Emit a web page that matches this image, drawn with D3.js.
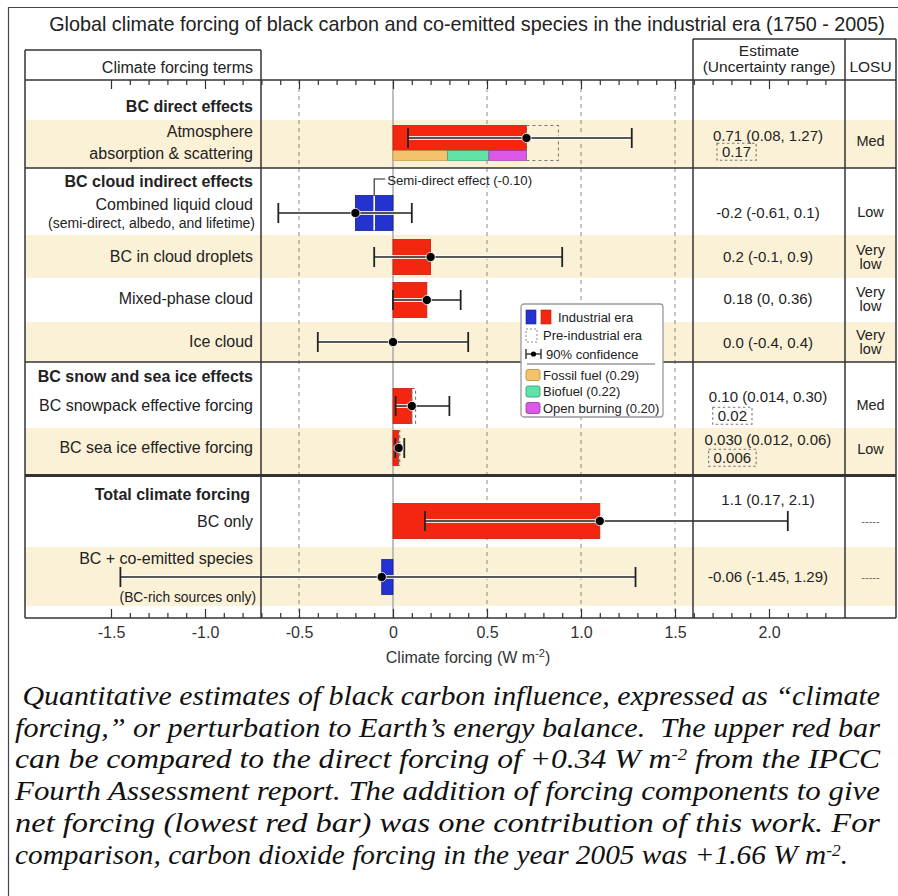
<!DOCTYPE html>
<html>
<head>
<meta charset="utf-8">
<script src="https://cdn.jsdelivr.net/npm/d3@7"></script>
<style>
  body { margin: 0; background: #fff; }
  svg { display: block; }
</style>
</head>
<body>
<svg id="chart" width="898" height="896"></svg>
<script>
// ---- Data ----------------------------------------------------------------
const terms = ["Atmosphere absorption & scattering", "Combined liquid cloud", "BC in cloud droplets",
  "Mixed-phase cloud", "Ice cloud", "BC snowpack effective forcing", "BC sea ice effective forcing",
  "BC only", "BC + co-emitted species"];
const best = [0.71, -0.2, 0.2, 0.18, 0.0, 0.10, 0.030, 1.1, -0.06];
const low  = [0.08, -0.61, -0.1, 0, -0.4, 0.014, 0.012, 0.17, -1.45];
const high = [1.27, 0.1, 0.9, 0.36, 0.4, 0.30, 0.06, 2.1, 1.29];
const preIndustrial = [0.17, null, null, null, null, 0.02, 0.006, null, null];
const estimateLabels = ["0.71 (0.08, 1.27)", "-0.2 (-0.61, 0.1)", "0.2 (-0.1, 0.9)", "0.18 (0, 0.36)",
  "0.0 (-0.4, 0.4)", "0.10 (0.014, 0.30)", "0.030 (0.012, 0.06)", "1.1 (0.17, 2.1)", "-0.06 (-1.45, 1.29)"];
const preLabels = ["0.17", null, null, null, null, "0.02", "0.006", null, null];
const losu = [["Med"], ["Low"], ["Very", "low"], ["Very", "low"], ["Very", "low"], ["Med"], ["Low"], ["-----"], ["-----"]];
const termLines = [["Atmosphere", "absorption & scattering"], ["Combined liquid cloud"], ["BC in cloud droplets"],
  ["Mixed-phase cloud"], ["Ice cloud"], ["BC snowpack effective forcing"], ["BC sea ice effective forcing"],
  ["BC only"], ["BC + co-emitted species"]];
const termNotes = [null, "(semi-direct, albedo, and lifetime)", null, null, null, null, null, null, "(BC-rich sources only)"];
const sections = ["BC direct effects", "BC cloud indirect effects", "BC snow and sea ice effects", "Total climate forcing"];
const sources = ["Fossil fuel", "Biofuel", "Open burning"];
const sourceValues = [0.29, 0.22, 0.20];
const semiDirect = -0.10;
const xTicks = [-1.5, -1.0, -0.5, 0, 0.5, 1.0, 1.5, 2.0];
const xTickLabels = ["-1.5", "-1.0", "-0.5", "0", "0.5", "1.0", "1.5", "2.0"];
const gridValues = [-0.5, 0.5, 1.0, 1.5];
const title = "Global climate forcing of black carbon and co-emitted species in the industrial era (1750 - 2005)";

// ---- Layout ----------------------------------------------------------------
const tableL = 25, labelR = 261, estL = 693, losuL = 845, tableR = 896;
const headTop = 50, estHeadTop = 39, axisTop = 80, axisY = 618;
const rowTop    = [120, 190, 235, 278, 322, 386, 428, 506, 547];
const rowBottom = [168, 235, 278, 322, 362, 428, 475, 547, 606];
const rowMid    = [138, 213, 257, 300, 342, 406, 448, 521, 577];
const sectionY  = [106, 181, 376, 494];
const termY     = [[131, 153], [204], [256], [298], [341], [405], [447], [521], [558]];
const noteY     = [null, 223, null, null, null, null, null, null, 597];
const estY      = [136, 213, 257, 299, 343, 397, 440, 500, 577];
const preY      = [152, null, null, null, null, 416, 458, null, null];
const losuY     = [141, 212, 257, 299, 342, 405, 449, 521, 577];
const barH = 35;

const font = "'Liberation Sans', Arial, Helvetica, sans-serif";
const ink = "#222";
const red = "#f3260f", redEdge = "#c41a0a";
const blue = "#2432d0", blueEdge = "#16208f";
const beige = "#fbf1d6";
const sourceColors = ["#f4c16c", "#5fe2a6", "#dc58e6"];
const sourceEdges = ["#b98a35", "#2f9a6a", "#9a2fa4"];

const x = d3.scaleLinear().domain([-1.5, 2.0]).range([111, 769]);

const svg = d3.select("#chart").style("font-family", font);

// ---- Frame and shaded rows ----------------------------------------------------
svg.append("path").attr("d", "M8.5,896V7.5H898").attr("fill", "none").attr("stroke", "#444").attr("stroke-width", 1.2);

svg.append("g").selectAll("rect").data(d3.range(terms.length).filter(i => i % 2 === 0)).join("rect")
  .attr("x", tableL).attr("width", tableR - tableL)
  .attr("y", i => rowTop[i]).attr("height", i => rowBottom[i] - rowTop[i])
  .attr("fill", beige);

// ---- Title ----------------------------------------------------------------------
svg.append("text").attr("x", 467).attr("y", 31).attr("text-anchor", "middle")
  .attr("font-size", 19.8).attr("fill", ink).text(title);

// ---- Grid ----------------------------------------------------------------------
svg.append("g").selectAll("line").data(gridValues).join("line")
  .attr("x1", d => x(d)).attr("x2", d => x(d)).attr("y1", axisTop).attr("y2", axisY)
  .attr("stroke", "#8a8a8a").attr("stroke-width", 1).attr("stroke-dasharray", "4,4");
svg.append("line").attr("x1", x(0)).attr("x2", x(0)).attr("y1", axisTop).attr("y2", axisY)
  .attr("stroke", "#a8a8a8").attr("stroke-width", 1.5);

// ---- Bars ----------------------------------------------------------------------
const barRows = d3.range(terms.length).filter(i => best[i] !== 0);
svg.append("g").selectAll("rect").data(barRows).join("rect")
  .attr("x", i => x(Math.min(0, best[i])))
  .attr("width", i => Math.abs(x(best[i]) - x(0)))
  .attr("y", i => i === 0 ? rowMid[i] - 12.5 : rowMid[i] - barH / 2)
  .attr("height", i => i === 0 ? 25 : barH)
  .attr("fill", i => best[i] < 0 ? blue : red)
  .attr("stroke", i => best[i] < 0 ? blueEdge : redEdge)
  .attr("stroke-width", 0.8);

// source split under the direct-effect bar
const srcStart = d3.cumsum([0, ...sourceValues]);
svg.append("g").selectAll("rect").data(sources).join("rect")
  .attr("x", (d, k) => x(srcStart[k]))
  .attr("width", (d, k) => x(srcStart[k + 1]) - x(srcStart[k]))
  .attr("y", rowMid[0] + 12.5).attr("height", 10)
  .attr("fill", (d, k) => sourceColors[k])
  .attr("stroke", (d, k) => sourceEdges[k]).attr("stroke-width", 0.6);

// pre-industrial portion (dashed outline)
const preRows = d3.range(terms.length).filter(i => preIndustrial[i] != null);
svg.append("g").selectAll("rect").data(preRows).join("rect")
  .attr("x", i => x(best[i]))
  .attr("width", i => x(best[i] + preIndustrial[i]) - x(best[i]))
  .attr("y", i => i === 0 ? rowMid[i] - 12.5 : rowMid[i] - barH / 2)
  .attr("height", i => i === 0 ? 35 : barH)
  .attr("fill", "none").attr("stroke", "#777").attr("stroke-width", 1.1).attr("stroke-dasharray", "3,3");

// semi-direct split within the liquid-cloud bar, with its call-out
{
  const i = 1, sx = x(semiDirect), top = rowMid[i] - barH / 2;
  svg.append("line").attr("x1", sx).attr("x2", sx).attr("y1", top).attr("y2", top + barH)
    .attr("stroke", "#fff").attr("stroke-width", 1.6);
  svg.append("path").attr("d", `M${sx},${top}V${sectionY[1] - 2}H${sx + 11}`)
    .attr("fill", "none").attr("stroke", ink).attr("stroke-width", 1.1);
  svg.append("text").attr("x", sx + 13).attr("y", sectionY[1] - 1).attr("dy", "0.35em")
    .attr("font-size", 13.2).attr("fill", ink).text(`Semi-direct effect (${semiDirect.toFixed(2)})`);
}

// ---- Uncertainty whiskers --------------------------------------------------------
const wg = svg.append("g");
d3.range(terms.length).forEach(i => {
  const y = rowMid[i], capH = 20;
  wg.append("line").attr("x1", x(low[i])).attr("x2", x(high[i])).attr("y1", y).attr("y2", y)
    .attr("stroke", "#fff").attr("stroke-opacity", 0.85).attr("stroke-width", 4.2);
  wg.append("line").attr("x1", x(low[i])).attr("x2", x(high[i])).attr("y1", y).attr("y2", y)
    .attr("stroke", ink).attr("stroke-width", 1.6);
  [low[i], high[i]].forEach(v => {
    wg.append("line").attr("x1", x(v)).attr("x2", x(v)).attr("y1", y - capH / 2).attr("y2", y + capH / 2)
      .attr("stroke", ink).attr("stroke-width", 1.8);
  });
  wg.append("circle").attr("cx", x(best[i])).attr("cy", y).attr("r", 4.6)
    .attr("fill", "#000").attr("stroke", "#fff").attr("stroke-width", 0.8);
});

// ---- Table rules ---------------------------------------------------------------
const rule = (x1, y1, x2, y2, w = 1.5, c = "#333") =>
  svg.append("line").attr("x1", x1).attr("y1", y1).attr("x2", x2).attr("y2", y2)
    .attr("stroke", c).attr("stroke-width", w);
rule(tableL, headTop, labelR, headTop);
rule(estL, estHeadTop, tableR, estHeadTop);
rule(tableL, axisTop, tableR, axisTop);
rule(tableL, 168, tableR, 168);
rule(tableL, 362, tableR, 362);
rule(tableL, 475.5, tableR, 475.5, 3);
rule(tableL, axisY, tableR, axisY);
[tableL, labelR].forEach(v => rule(v, headTop, v, axisY));
[estL, losuL, tableR].forEach(v => rule(v, estHeadTop, v, axisY));

// ---- Axes ----------------------------------------------------------------------
const allTicks = d3.range(-15, 24).map(k => k / 10);
const minorTicks = allTicks.filter(v => !xTicks.some(t => Math.abs(t - v) < 1e-9));
const styleAxis = g => {
  g.select(".domain").remove();
  g.selectAll(".tick line").attr("stroke", "#333").attr("stroke-width", 1.2);
};
svg.append("g").attr("transform", `translate(0,${axisTop})`)
  .call(d3.axisTop(x).tickValues(minorTicks).tickSize(-5).tickFormat("")).call(styleAxis);
svg.append("g").attr("transform", `translate(0,${axisTop})`)
  .call(d3.axisTop(x).tickValues(xTicks).tickSize(-9).tickFormat("")).call(styleAxis);
svg.append("g").attr("transform", `translate(0,${axisY})`)
  .call(d3.axisBottom(x).tickValues(minorTicks).tickSize(-5).tickFormat("")).call(styleAxis);
svg.append("g").attr("transform", `translate(0,${axisY})`)
  .call(d3.axisBottom(x).tickValues(xTicks).tickSize(-9).tickPadding(9)
    .tickFormat((d, k) => xTickLabels[k]))
  .call(styleAxis)
  .call(g => g.selectAll("text").attr("font-size", 16).attr("fill", "#333").attr("font-family", font));

const axisTitle = svg.append("text").attr("x", 468).attr("y", 663).attr("text-anchor", "middle")
  .attr("font-size", 16).attr("fill", "#333");
axisTitle.append("tspan").text("Climate forcing  (W m");
axisTitle.append("tspan").attr("font-size", 11).attr("dy", -6).text("-2");
axisTitle.append("tspan").attr("dy", 6).text(")");

// ---- Headers -----------------------------------------------------------------------
svg.append("text").attr("x", 253).attr("y", 67).attr("dy", "0.35em").attr("text-anchor", "end")
  .attr("font-size", 16).attr("fill", ink).text("Climate forcing terms");
svg.append("text").attr("x", (estL + losuL) / 2).attr("y", 51).attr("dy", "0.35em").attr("text-anchor", "middle")
  .attr("font-size", 15.5).attr("fill", ink).text("Estimate");
svg.append("text").attr("x", (estL + losuL) / 2).attr("y", 67).attr("dy", "0.35em").attr("text-anchor", "middle")
  .attr("font-size", 15.5).attr("fill", ink).text("(Uncertainty range)");
svg.append("text").attr("x", (losuL + tableR) / 2).attr("y", 67).attr("dy", "0.35em").attr("text-anchor", "middle")
  .attr("font-size", 15.5).attr("fill", ink).text("LOSU");

// ---- Row labels --------------------------------------------------------------------
svg.append("g").selectAll("text").data(sections).join("text")
  .attr("x", (d, k) => k === 3 ? 250 : 253).attr("y", (d, k) => sectionY[k]).attr("dy", "0.35em")
  .attr("text-anchor", "end").attr("font-size", 16).attr("font-weight", "bold").attr("fill", ink).text(d => d);

const labelG = svg.append("g").attr("font-size", 16).attr("fill", ink).attr("text-anchor", "end");
termLines.forEach((lines, i) => {
  lines.forEach((t, j) => labelG.append("text").attr("x", 253).attr("y", termY[i][j]).attr("dy", "0.35em").text(t));
  if (termNotes[i]) {
    labelG.append("text").attr("x", i === 8 ? 256 : 255).attr("y", noteY[i]).attr("dy", "0.35em")
      .attr("font-size", i === 8 ? 13.8 : 14).text(termNotes[i]);
  }
});

// ---- Estimate and LOSU columns ---------------------------------------------------------
const estG = svg.append("g").attr("font-size", 15).attr("fill", ink);
estimateLabels.forEach((t, i) => {
  const txt = estG.append("text").attr("x", (estL + losuL) / 2 - 1).attr("y", estY[i]).attr("dy", "0.35em")
    .attr("text-anchor", "middle").text(t);
  if (preLabels[i]) {
    const left = txt.node().getBBox().x;
    const p = estG.append("text").attr("x", left + 9).attr("y", preY[i]).attr("dy", "0.35em").text(preLabels[i]);
    const b = p.node().getBBox();
    estG.append("rect").attr("x", b.x - 5).attr("y", b.y).attr("width", b.width + 10).attr("height", b.height)
      .attr("fill", "none").attr("stroke", "#777").attr("stroke-width", 1.1).attr("stroke-dasharray", "2.5,2.5");
  }
});
const losuG = svg.append("g").attr("fill", ink).attr("text-anchor", "middle");
losu.forEach((lines, i) => {
  lines.forEach((t, j) => {
    const y = losuY[i] + (lines.length === 2 ? (j === 0 ? -7.5 : 7) : 0);
    losuG.append("text").attr("x", (losuL + tableR) / 2).attr("y", y).attr("dy", "0.35em")
      .attr("font-size", t === "-----" ? 11 : 14.5)
      .attr("fill", t === "-----" ? "#666" : ink)
      .text(t);
  });
});

// ---- Legend ------------------------------------------------------------------------
const lg = svg.append("g").attr("transform", "translate(521,304)").attr("font-size", 13).attr("fill", ink);
lg.append("rect").attr("width", 142).attr("height", 113).attr("rx", 3)
  .attr("fill", "#fff").attr("stroke", "#9a9a9a").attr("stroke-width", 1.3);
lg.append("rect").attr("x", 5).attr("y", 6).attr("width", 10).attr("height", 14).attr("fill", blue).attr("stroke", blueEdge).attr("stroke-width", 0.6);
lg.append("rect").attr("x", 20).attr("y", 6).attr("width", 10).attr("height", 14).attr("fill", red).attr("stroke", redEdge).attr("stroke-width", 0.6);
lg.append("text").attr("x", 37).attr("y", 13).attr("dy", "0.35em").text("Industrial era");
lg.append("rect").attr("x", 5).attr("y", 25).attr("width", 11).attr("height", 13)
  .attr("fill", "none").attr("stroke", "#888").attr("stroke-dasharray", "2,2");
lg.append("text").attr("x", 22).attr("y", 31).attr("dy", "0.35em").text("Pre-industrial era");
lg.append("line").attr("x1", 5).attr("x2", 20).attr("y1", 50).attr("y2", 50).attr("stroke", ink).attr("stroke-width", 1.3);
[5, 20].forEach(v => lg.append("line").attr("x1", v).attr("x2", v).attr("y1", 45).attr("y2", 55).attr("stroke", ink).attr("stroke-width", 1.3));
lg.append("circle").attr("cx", 12.5).attr("cy", 50).attr("r", 2.6).attr("fill", "#000");
lg.append("text").attr("x", 25).attr("y", 50).attr("dy", "0.35em").text("90% confidence");
lg.append("line").attr("x1", 6).attr("x2", 134).attr("y1", 60).attr("y2", 60).attr("stroke", "#9a9a9a").attr("stroke-width", 1.5);
sources.forEach((s, k) => {
  const y = 71 + k * 16.5;
  lg.append("rect").attr("x", 5).attr("y", y - 5.5).attr("width", 14).attr("height", 11).attr("rx", 2)
    .attr("fill", sourceColors[k]).attr("stroke", sourceEdges[k]).attr("stroke-width", 0.8);
  lg.append("text").attr("x", 22).attr("y", y).attr("dy", "0.35em").text(`${s} (${sourceValues[k].toFixed(2)})`);
});

// ---- Caption -------------------------------------------------------------------------
const captionLines = [
  [["\u00a0Quantitative estimates of black carbon influence, expressed as \u201cclimate"]],
  [["forcing,\u201d or perturbation to Earth\u2019s energy balance.  The upper red bar"]],
  [["can be compared to the direct forcing of +0.34 W m"], ["-2", true], [" from the IPCC"]],
  [["Fourth Assessment report. The addition of forcing components to give"]],
  [["net forcing (lowest red bar) was one contribution of this work. For"]],
  [["comparison, carbon dioxide forcing in the year 2005 was +1.66 W m"], ["-2", true], ["."]]
];
const capX = [15, 15, 15, 15, 15, 15];
const capW = [865, 865, 865, 865, 865, 833];
const capG = svg.append("g").attr("font-family", "'Liberation Serif', 'Times New Roman', serif")
  .attr("font-style", "italic").attr("font-size", 27).attr("fill", "#111");
captionLines.forEach((parts, k) => {
  const t = capG.append("text").attr("x", capX[k]).attr("y", 705 + k * 31.7)
    .attr("textLength", capW[k]).attr("lengthAdjust", "spacingAndGlyphs")
    .attr("xml:space", "preserve").style("white-space", "pre");
  parts.forEach(([s, sup]) => {
    const ts = t.append("tspan").text(s);
    if (sup) ts.attr("font-size", 16).attr("baseline-shift", "super");
  });
});
</script>
</body>
</html>
